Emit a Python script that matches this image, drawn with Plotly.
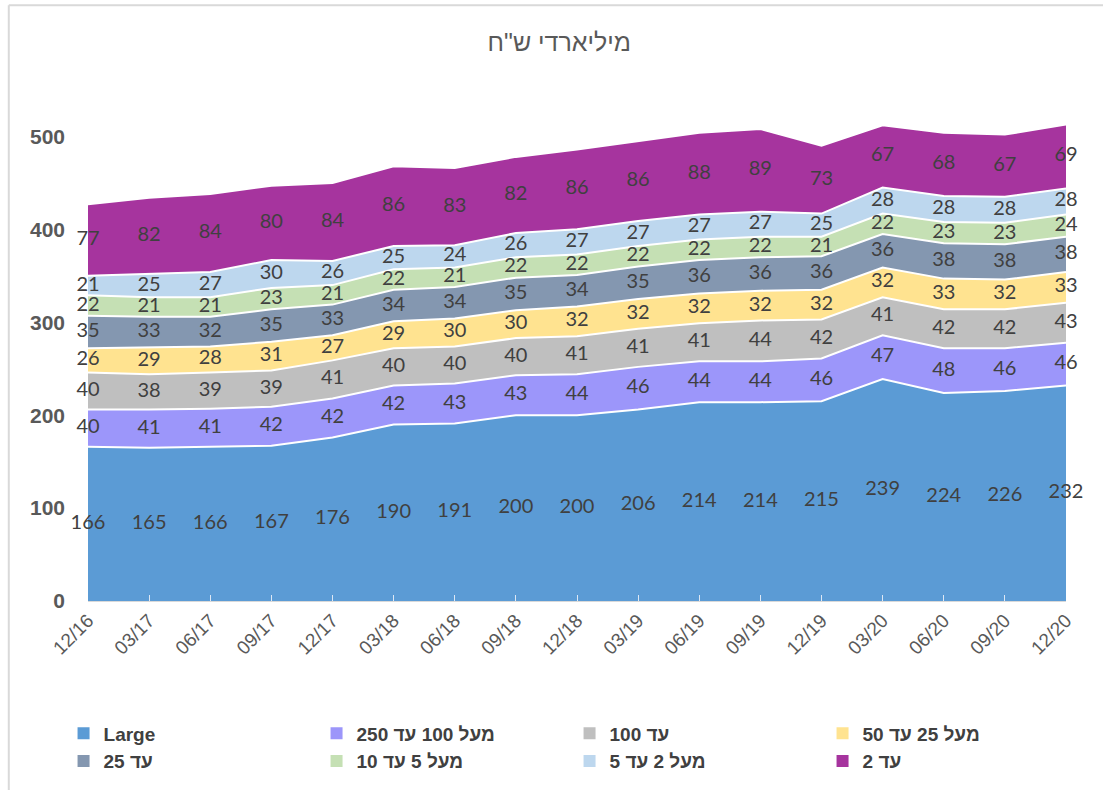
import numpy as np
import plotly.graph_objects as go

dates = ["12/16", "03/17", "06/17", "09/17", "12/17", "03/18", "06/18", "09/18", "12/18",
         "03/19", "06/19", "09/19", "12/19", "03/20", "06/20", "09/20", "12/20"]

large = [166, 165, 166, 167, 176, 190, 191, 200, 200, 206, 214, 214, 215, 239, 224, 226, 232]
s100_250 = [40, 41, 41, 42, 42, 42, 43, 43, 44, 46, 44, 44, 46, 47, 48, 46, 46]
upto100 = [40, 38, 39, 39, 41, 40, 40, 40, 41, 41, 41, 44, 42, 41, 42, 42, 43]
s25_50 = [26, 29, 28, 31, 27, 29, 30, 30, 32, 32, 32, 32, 32, 32, 33, 32, 33]
upto25 = [35, 33, 32, 35, 33, 34, 34, 35, 34, 35, 36, 36, 36, 36, 38, 38, 38]
s5_10 = [22, 21, 21, 23, 21, 22, 21, 22, 22, 22, 22, 22, 21, 22, 23, 23, 24]
s2_5 = [21, 25, 27, 30, 26, 25, 24, 26, 27, 27, 27, 27, 25, 28, 28, 28, 28]
upto2 = [77, 82, 84, 80, 84, 86, 83, 82, 86, 86, 88, 89, 73, 67, 68, 67, 69]

names = ["Large", "מעל 100 עד 250", "עד 100", "מעל 25 עד 50",
         "עד 25", "מעל 5 עד 10", "מעל 2 עד 5", "עד 2"]
series = [large, s100_250, upto100, s25_50, upto25, s5_10, s2_5, upto2]
colors = ["#5B9BD5", "#9C96FA", "#BFBFBF", "#FFE390",
          "#8497B0", "#C5E0B4", "#BDD7EE", "#A6349E"]

fig = go.Figure()

for name, vals, col in zip(names, series, colors):
    fig.add_trace(go.Scatter(
        x=dates, y=vals, name=name, stackgroup="one", mode="lines",
        line=dict(color="white", width=2), fillcolor=col, showlegend=False,
        hoverinfo="x+y+name"))

cum = np.zeros(len(dates))
for name, vals, col in zip(names, series, colors):
    v = np.array(vals, dtype=float)
    mid = cum + v / 2
    cum = cum + v
    fig.add_trace(go.Scatter(
        x=dates, y=mid, mode="text", text=[str(x) for x in vals],
        textposition="middle center",
        textfont=dict(family="Lato, Open Sans, sans-serif", size=20, color="#404040"),
        showlegend=False, hoverinfo="skip", cliponaxis=False))

for i, (name, col) in enumerate(zip(names, colors)):
    fig.add_trace(go.Scatter(
        x=[None], y=[None], mode="markers", name=name,
        marker=dict(symbol="square", size=11, color=col),
        showlegend=True, legendrank=i + 1))

fig.update_layout(
    width=1103, height=791,
    margin=dict(l=88, r=37, t=90, b=190, autoexpand=False),
    paper_bgcolor="white", plot_bgcolor="white",
    title=dict(text="מיליארדי ש\"ח", x=0.507, xanchor="center", y=0.947, yanchor="middle",
               font=dict(family="Liberation Sans, Arial, sans-serif", size=25, color="#595959")),
    xaxis=dict(type="category", range=[0, 16], showgrid=False, zeroline=False,
               showline=True, linecolor="#D9D9D9", linewidth=1,
               ticks="inside", ticklen=6, tickcolor="#DDE8F5",
               tickangle=-45, automargin=False,
               tickfont=dict(family="Liberation Sans, Arial, sans-serif", size=19, color="#595959")),
    yaxis=dict(range=[0, 550], tickvals=[0, 100, 200, 300, 400, 500], showgrid=False,
               zeroline=False, showline=False, ticklabelstandoff=22, automargin=False,
               tickfont=dict(family="Liberation Sans, Arial, sans-serif", size=21, color="#595959",
                             weight="bold")),
    legend=dict(orientation="h", x=-0.025, xanchor="left", y=-0.222, yanchor="top",
                traceorder="normal", entrywidth=208, entrywidthmode="pixels",
                font=dict(family="Liberation Sans Narrow, Arial Narrow, Liberation Sans, sans-serif",
                          size=19, color="#404040", weight="bold"),
                itemsizing="constant", tracegroupgap=4),
    showlegend=True,
    shapes=[
        dict(type="line", xref="paper", yref="paper", x0=-0.081, x1=1.04, y0=1.166, y1=1.166,
             line=dict(color="#D9D9D9", width=2)),
        dict(type="line", xref="paper", yref="paper", x0=-0.081, x1=-0.081, y0=1.166, y1=-0.37,
             line=dict(color="#D9D9D9", width=2)),
    ],
)

fig.write_html("out.html", config={"displayModeBar": False},
               post_script="document.body.style.margin='0';")
